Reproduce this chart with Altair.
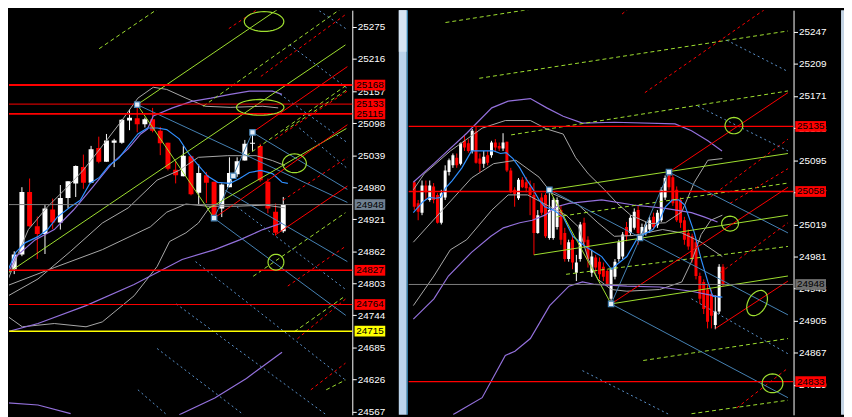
import math
import altair as alt
import pandas as pd

FONT = "Liberation Sans"

# ======================= LEFT PANEL DATA =======================
L_OPEN = [24847, 24829, 24856, 24971, 24908, 24894, 24939, 24915, 24960, 24987, 25017, 24988, 25052, 25027,
          25062, 25062, 25103, 25107, 25096, 25105, 25084, 25062, 25012, 25000, 25037, 24970, 25002, 24990,
          24941, 24980, 25004, 25029, 25060, 25056, 24990, 24935, 24899]
L_HIGH = [24856, 24862, 24980, 24996, 24926, 24947, 24959, 24984, 24991, 25020, 25040, 25056, 25073, 25078,
          25069, 25105, 25123, 25132, 25108, 25126, 25091, 25062, 25028, 25056, 25038, 25022, 25008, 24990,
          24987, 25035, 25035, 25067, 25081, 25060, 24996, 24950, 24962]
L_LOW = [24820, 24820, 24853, 24907, 24848, 24857, 24903, 24902, 24941, 24962, 24977, 24988, 25024, 25027,
         25017, 25060, 25085, 25081, 25090, 25081, 25039, 25011, 24987, 25000, 24965, 24947, 24951, 24923,
         24925, 24980, 24999, 25029, 25047, 24990, 24932, 24891, 24896]
L_CLOSE = [24829, 24856, 24971, 24908, 24894, 24941, 24915, 24960, 24991, 25019, 24988, 25050, 25027, 25066,
           25066, 25104, 25108, 25096, 25105, 25084, 25061, 25014, 25002, 25038, 24967, 25006, 24988, 24929,
           24985, 25006, 25028, 25060, 25062, 24993, 24941, 24896, 24947]

L_TICKS = [25275, 25216, 25157, 25098, 25039, 24980, 24921, 24862, 24803, 24744, 24685, 24626, 24567]
L_RED_LEVELS = [25168, 25133, 25115, 24827, 24764]
L_CURRENT = [24948]
L_YELLOW = [24715]

L_MA_BLUE_BAR = [-0.04, 1.21, 2.46, 4.09, 5.34, 6.59, 8.34, 9.59, 10.84, 12.09, 13.34, 14.59, 15.84, 17.09,
                 18.34, 19.6, 20.84, 22.46, 23.7, 24.96, 26.2, 27.46, 29.09, 30.34, 31.59, 33.09, 34.59, 35.84, 36.6]
L_MA_BLUE_PRICE = [24820, 24860, 24878, 24889, 24902, 24925, 24944, 24956, 24987, 24998, 25020, 25033, 25056,
                   25078, 25089, 25089, 25086, 25069, 25042, 25020, 25000, 24989, 24987, 24996, 25007, 25011,
                   25005, 24989, 24987]
L_PURPLE_UP_BAR = [-0.04, 1.21, 3.71, 6.21, 8.71, 11.21, 13.71, 15.84, 17.46, 18.34, 19.09, 21.59, 24.09,
                   26.59, 29.09, 31.59, 34.59, 35.84]
L_PURPLE_UP_PRICE = [24814, 24852, 24883, 24902, 24938, 24980, 25024, 25051, 25078, 25087, 25111, 25126,
                     25138, 25144, 25151, 25157, 25157, 25151]
L_PURPLE_MID_BAR = [-0.04, 4.09, 10.34, 16.59, 22.84, 27.09, 30.34, 33.34, 35.84]
L_PURPLE_MID_PRICE = [24713, 24729, 24762, 24801, 24847, 24865, 24883, 24902, 24914]
L_PURPLE_B1_BAR = [-0.04, 4.09, 8.34]
L_PURPLE_B1_PRICE = [24583, 24579, 24563]
L_PURPLE_B2_BAR = [22.46, 27.09, 31.2, 35.84]
L_PURPLE_B2_PRICE = [24561, 24592, 24628, 24676]
L_GRAY1_BAR = [-0.04, 1.46, 2.84, 5.34, 7.46, 9.96, 12.46, 14.96, 17.09, 19.09, 20.84, 23.34, 25.84, 29.09,
               33.34, 35.34]
L_GRAY1_PRICE = [24801, 24856, 24902, 24944, 24974, 25011, 25056, 25102, 25144, 25164, 25160, 25144, 25129,
                 25127, 25129, 25126]
L_GRAY2_BAR = [-0.04, 4.09, 8.34, 12.46, 15.84, 19.59, 22.46, 24.96, 28.71, 32.46, 34.59, 36.21]
L_GRAY2_PRICE = [24778, 24811, 24862, 24914, 24942, 24993, 25011, 25035, 25038, 25038, 25029, 25020]
L_GRAY3_BAR = [-0.04, 6.21, 12.46, 18.71, 20.84, 23.34, 26.21, 29.96, 33.71, 36.21]
L_GRAY3_PRICE = [24798, 24832, 24865, 24907, 24934, 24949, 24945, 24945, 24947, 24942]
L_GRAY4_BAR = [-0.04, 2.05, 6.21, 10.34, 12.46, 16.59, 19.59, 21.21, 23.34, 24.96, 26.46]
L_GRAY4_PRICE = [24744, 24723, 24729, 24723, 24732, 24780, 24834, 24880, 24896, 24914, 24944]

# trend lines: (bar1, price1, bar2, price2)
L_GREEN_SOLID = [(17, 25132, 36.59, 25320), (-0.04, 24820, 44.09, 25242), (17, 25132, 27, 24923),
                 (26.2, 24940, 44.21, 25088)]
L_RED_SOLID = [(27, 24923, 44.34, 25095), (32, 25081, 44.34, 25202), (34.96, 24892, 44.34, 24982)]
L_BLUE_SOLID = [(27, 24923, 29.5, 25001), (29.5, 25001, 32, 25081), (17, 25132, 44.34, 24952),
                (32, 25081, 44.34, 24976), (27, 24923, 44.13, 24744), (28.46, 24974, 44.34, 24843)]
L_GREEN_DASH = [(12.05, 25235, 20.59, 25317), (25.59, 25129, 44.34, 25317), (31.21, 25038, 44.34, 25169),
                (32.09, 24816, 44.09, 24933), (37.46, 24714, 44.09, 24780), (41.59, 24607, 44.09, 24625),
                (36.21, 25084, 44.34, 25160)]
L_RED_DASH = [(28.92, 25272, 33.96, 25320), (33.09, 25184, 44.21, 25299), (34.96, 25069, 44.34, 25157),
              (35.96, 24956, 44.34, 25035), (36.59, 24798, 44.09, 24871), (37.84, 24701, 44.09, 24774),
              (39.59, 24607, 44.09, 24656)]
L_BLUE_DASH = [(39.09, 25320, 44.34, 25270), (36.84, 25242, 44.34, 25162), (35.59, 25151, 44.34, 25062),
               (24.59, 24843, 44.09, 24625), (22.09, 24765, 41.59, 24561), (19.59, 24683, 30.84, 24561),
               (17.09, 24607, 20.84, 24561), (29.96, 24944, 44.09, 24792), (38.09, 25089, 44.21, 25016)]
L_ELLIPSE_BAR = [33.5, 33.0, 37.46, 35.05]
L_ELLIPSE_PRICE = [25285, 25127, 25024, 24842]
L_PIVOT_BAR = [17, 27, 29.5, 32]
L_PIVOT_PRICE = [25132, 24923, 25001, 25081]

# ======================= RIGHT PANEL DATA =======================
R_OPEN = [25069, 25044, 25033, 25065, 25048, 25064, 25054, 25021, 25051, 25081, 25089, 25098, 25091, 25118,
          25115, 25106, 25129, 25097, 25091, 25101, 25101, 25116, 25112, 25109, 25117, 25083, 25060, 25050,
          25072, 25069, 25063, 25054, 25009, 25051, 25054, 25003, 25003, 25016, 25036, 25009, 24978, 25001,
          24962, 24978, 25021, 25001, 24962, 24980, 24975, 24969, 24964, 24931, 24957, 24978, 24981, 25016,
          25009, 25015, 25036, 25005, 25009, 25013, 25028, 25018, 25024, 25051, 25079, 25075, 25060, 25048,
          25024, 25009, 25005, 24998, 24958, 24951, 24942, 24937, 24900, 24916, 24969]
R_HIGH = [25071, 25048, 25071, 25071, 25071, 25068, 25056, 25060, 25089, 25097, 25103, 25103, 25116, 25124,
          25120, 25132, 25135, 25103, 25106, 25106, 25118, 25120, 25116, 25127, 25117, 25086, 25063, 25074,
          25075, 25075, 25071, 25068, 25036, 25056, 25056, 25060, 25051, 25051, 25042, 25015, 25001, 25007,
          24983, 25022, 25027, 25005, 24989, 24983, 24980, 24974, 24966, 24968, 24978, 25001, 25010, 25022,
          25030, 25038, 25042, 25020, 25022, 25028, 25033, 25036, 25063, 25077, 25082, 25078, 25064, 25051,
          25028, 25013, 25008, 25001, 24962, 24954, 24948, 24942, 24935, 24972, 24972]
R_LOW = [25036, 25024, 25030, 25048, 25046, 25044, 25020, 25019, 25048, 25077, 25086, 25086, 25089, 25106,
         25104, 25103, 25091, 25081, 25086, 25089, 25098, 25106, 25106, 25106, 25081, 25056, 25040, 25048,
         25062, 25057, 25030, 24983, 25008, 25030, 25003, 25001, 25001, 25013, 24995, 24975, 24975, 24966,
         24952, 24975, 24992, 24968, 24957, 24962, 24954, 24952, 24946, 24925, 24954, 24975, 24978, 24999,
         25006, 25013, 24995, 25001, 25006, 25009, 25013, 25015, 25022, 25048, 25060, 25041, 25022, 25015,
         24995, 24989, 24974, 24954, 24925, 24913, 24896, 24896, 24895, 24913, 24946]
R_CLOSE = [25040, 25034, 25065, 25057, 25065, 25048, 25021, 25056, 25083, 25095, 25101, 25089, 25115, 25110,
           25106, 25130, 25092, 25091, 25099, 25092, 25116, 25110, 25109, 25116, 25083, 25057, 25055, 25072,
           25063, 25062, 25054, 25009, 25030, 25033, 25005, 25036, 25048, 25048, 25001, 24978, 24998, 24974,
           24974, 25019, 24998, 24978, 24981, 24968, 24960, 24957, 24948, 24966, 24975, 24998, 25007, 25005,
           25027, 25034, 25009, 25016, 25019, 25024, 25016, 25033, 25060, 25074, 25063, 25044, 25024, 25021,
           25001, 24993, 24978, 24958, 24931, 24919, 24904, 24911, 24916, 24969, 24948]

R_TICKS = [25247, 25209, 25171, 25133, 25095, 25057, 25019, 24981, 24943, 24905, 24867, 24829]
R_RED_LEVELS = [25135, 25058, 24833]
R_CURRENT = [24948]

R_MA_BLUE_BAR = [-0.25, 2.25, 3.83, 5.58, 6.83, 8.08, 9.83, 12.33, 14.83, 17.33, 20.58, 22.33, 23.83, 25.58,
                 27.33, 28.83, 30.58, 32.33, 33.83, 36.08, 38.58, 41.08, 44.33, 48.58, 51.08, 52.58, 55.08,
                 57.58, 59.33, 61.83, 63.58, 65.08, 66.83, 68.58, 70.08, 72.58, 74.33, 76.08, 77.33, 79.83]
R_MA_BLUE_PRICE = [25033, 25046, 25051, 25050, 25051, 25062, 25071, 25086, 25106, 25106, 25106, 25103, 25104,
                   25097, 25086, 25074, 25062, 25048, 25040, 25036, 25028, 25005, 24993, 24981, 24966, 24972,
                   24981, 25001, 25007, 25013, 25024, 25040, 25048, 25048, 25042, 25009, 24978, 24951, 24934,
                   24933]
R_PURPLE1_BAR = [-0.25, 5.08, 13.58, 20.08, 24.33, 30.08, 34.33, 38.58, 43.58, 51.83, 67.58, 71.83, 76.08, 79.75]
R_PURPLE1_PRICE = [25069, 25091, 25127, 25157, 25165, 25168, 25157, 25147, 25139, 25140, 25138, 25130, 25118,
                   25106]
R_PURPLE2_BAR = [-0.25, 5.08, 8.83, 14.83, 19.83, 23.08, 27.33, 30.58, 33.83, 36.83, 40.08, 48.58, 56.83,
                 65.08, 71.83, 75.08, 78.58]
R_PURPLE2_PRICE = [24907, 24931, 24958, 24986, 25005, 25015, 25021, 25024, 25030, 25040, 25044, 25048, 25042,
                   25038, 25033, 25028, 25022]
R_PURPLE3_BAR = [10.08, 17.58, 23.58, 26.08, 30.08, 35.08, 40.08, 43.58, 46.83, 55.08, 63.58, 71.83, 79.33]
R_PURPLE3_PRICE = [24794, 24814, 24864, 24869, 24884, 24923, 24946, 24951, 24948, 24946, 24945, 24940, 24933]
R_GRAY1_BAR = [-0.25, 2.58, 9.33, 17.58, 23.58, 30.08, 34.33, 38.58, 41.83, 45.08, 49.33, 52.58, 56.08, 61.08,
               65.08, 69.33, 72.58, 76.08, 79.83]
R_GRAY1_PRICE = [25060, 25079, 25106, 25133, 25142, 25142, 25132, 25126, 25098, 25079, 25060, 25044, 25030,
                 25020, 25021, 25034, 25069, 25095, 25097]
R_GRAY2_BAR = [-0.25, 8.08, 14.83, 20.58, 26.33, 32.33, 35.58, 42.58, 47.58, 51.83, 56.83, 64.33, 69.33,
               74.33, 79.83]
R_GRAY2_PRICE = [24998, 25040, 25074, 25091, 25095, 25075, 25056, 25042, 25021, 25005, 25006, 25013, 25009,
                 24998, 24981]
R_GRAY3_BAR = [-0.25, 5.08, 9.33, 13.58, 20.08, 24.33, 29.33, 34.33, 39.33, 42.58, 45.08, 47.58, 51.08,
               55.08, 63.58, 69.33, 71.83, 74.33, 76.83, 79.83]
R_GRAY3_PRICE = [24923, 24958, 24989, 25001, 25036, 25054, 25054, 25042, 25030, 25016, 24978, 24954, 24942,
                 24940, 24942, 24951, 24975, 25007, 25024, 25030]

R_GREEN_SOLID = [(35, 25060, 96.83, 25103), (51, 24925, 96.83, 24958), (31, 24983, 96.83, 25030),
                 (35, 25060, 51, 24925)]
R_RED_SOLID = [(51, 24925, 96.83, 25063), (66, 25081, 96.83, 25175), (78.08, 24896, 96.83, 24952)]
R_BLUE_SOLID = [(51, 24925, 58.5, 25003), (58.5, 25003, 66, 25081), (35, 25060, 96.83, 24912),
                (66, 25081, 96.83, 25009), (51, 24925, 96.83, 24814)]
R_GREEN_DASH = [(8.08, 25258, 41.83, 25282), (16.83, 25192, 96.83, 25248), (25.08, 25125, 96.83, 25177),
                (36.83, 25028, 96.83, 25068), (39.33, 24960, 96.83, 24993), (59.33, 24858, 96.83, 24884),
                (71.83, 24795, 96.83, 24811)]
R_RED_DASH = [(53.83, 25268, 57.58, 25282), (59.75, 25175, 93.5, 25282), (76.83, 25052, 96.83, 25120),
              (81.83, 25044, 96.83, 25085), (79.33, 24962, 96.83, 25021), (83.58, 24802, 96.83, 24849)]
R_BLUE_DASH = [(81.0, 25237, 96.83, 25200), (73.5, 25159, 96.83, 25106), (71.83, 24931, 96.83, 24866),
               (43.58, 24846, 66.08, 24794)]
R_ELLIPSE_BAR = [82.83, 81.83, 88.83, 92.83]
R_ELLIPSE_PRICE = [25136, 25020, 24926, 24831]
R_PIVOT_BAR = [35, 51, 58.5, 66]
R_PIVOT_PRICE = [25060, 24925, 25003, 25081]

# ======================= STYLES =======================
GREEN = "#9fe030"
RED = "#ff0000"
STEEL = "#4682b4"
BLUE_DASH = "#5b93cc"
MA_BLUE = "#2f8fff"
PURPLE = "#9370db"
GRAY = "#a9a9a9"
CUR_GRAY = "#808080"
YELLOW = "#ffff00"

H = 409
L_STYLE = dict(width=347, xdom=[0.9625, 44.3375], ydom=[24560.9, 25305.9], body=5, tagx=364.8,
               ellipse=[(40, 20, 0), (48, 16, 0), (24, 19, 0), (16, 16, 0)],
               level_width=[2, 1, 2, 1.5, 1], cur_tag="#6f7f90")
R_STYLE = dict(width=389, xdom=[-0.175, 97.0], ydom=[24793.7, 25272.6], body=3, tagx=406.3,
               ellipse=[(18, 16.5, 0), (17, 15, 0), (27.6, 18.2, 300), (21, 19, 0)],
               level_width=[1.3, 1.3, 1.3], cur_tag="#6e6e6e")


def ellipse_path(ratio):
    pts = []
    for k in range(40):
        t = 2 * math.pi * k / 40
        pts.append(f"{math.cos(t):.4f},{ratio * math.sin(t):.4f}")
    return "M" + "L".join(pts) + "Z"


TAG_PATH = "M-1,-0.35L1,-0.35L1,0.35L-1,0.35Z"


def y_axis(ticks):
    return alt.Axis(orient="right", values=ticks, title=None, grid=False, domain=True, domainColor="#ffffff",
                    domainWidth=1, ticks=True, tickColor="#ffffff", tickSize=4, tickWidth=1,
                    labelColor="#ffffff", labelFont=FONT, labelFontSize=10, labelPadding=1,
                    labelOverlap=False, labelFlush=False, labelBound=False, format="d")


def build_panel(o, h, l, c, ticks, paths, segs, levels, tags, ell_bar, ell_price, piv_bar, piv_price, st,
                extras):
    xs = alt.Scale(domain=st["xdom"], nice=False, zero=False)
    ys = alt.Scale(domain=st["ydom"], nice=False, zero=False)
    yax = y_axis(ticks)

    def X(f):
        return alt.X(f, type="quantitative", scale=xs, axis=None)

    def Y(f):
        return alt.Y(f, type="quantitative", scale=ys, axis=yax)

    layers = []
    n = len(o)
    cdf = pd.DataFrame({"bar": list(range(n)), "open": o, "high": h, "low": l, "close": c})
    cdf["dir"] = ["up" if cc >= oo else "down" for oo, cc in zip(o, c)]
    color = alt.Color("dir:N", scale=alt.Scale(domain=["up", "down"], range=["#ffffff", RED]), legend=None)
    layers.append(alt.Chart(cdf).mark_rule(clip=True, strokeWidth=1).encode(
        x=X("bar"), y=Y("low"), y2=alt.Y2("high"), color=color))
    layers.append(alt.Chart(cdf).mark_bar(clip=True, size=st["body"]).encode(
        x=X("bar"), y=Y("open"), y2=alt.Y2("close"), color=color))

    for bars, prices, col, w in paths:
        df = pd.DataFrame({"bar": bars, "price": prices, "k": list(range(len(bars)))})
        layers.append(alt.Chart(df).mark_line(clip=True, color=col, strokeWidth=w).encode(
            x=X("bar"), y=Y("price"), order=alt.Order("k", type="quantitative")))

    for seglist, col, dash in segs:
        df = pd.DataFrame(seglist, columns=["x1", "y1", "x2", "y2"])
        kw = dict(clip=True, color=col, strokeWidth=1)
        if dash:
            kw["strokeDash"] = dash
        layers.append(alt.Chart(df).mark_rule(**kw).encode(
            x=X("x1"), x2=alt.X2("x2"), y=Y("y1"), y2=alt.Y2("y2")))

    for price, col, w in levels:
        layers.append(alt.Chart(pd.DataFrame({"price": [price]})).mark_rule(color=col, strokeWidth=w).encode(
            y=Y("price")))

    for b, p, (ew, eh, ang) in zip(ell_bar, ell_price, st["ellipse"]):
        layers.append(alt.Chart(pd.DataFrame({"bar": [b], "price": [p]})).mark_point(
            clip=True, shape=ellipse_path(eh / ew), size=ew * ew, filled=False, color=GREEN, strokeWidth=1.2,
            opacity=1, angle=ang).encode(x=X("bar"), y=Y("price")))

    pdf = pd.DataFrame({"bar": piv_bar, "price": piv_price})
    layers.append(alt.Chart(pdf).mark_point(clip=True, shape="square", size=30, filled=True, fill="#e3edf7",
                                            stroke=STEEL, strokeWidth=1.2, opacity=1).encode(
        x=X("bar"), y=Y("price")))

    for price, bg, fg in tags:
        df = pd.DataFrame({"price": [price], "label": [str(price)]})
        layers.append(alt.Chart(df).mark_point(shape=TAG_PATH, size=961, filled=True, color=bg,
                                               opacity=1).encode(x=alt.value(st["tagx"]), y=Y("price")))
        layers.append(alt.Chart(df).mark_text(font=FONT, fontSize=10, color=fg, align="center",
                                              baseline="middle").encode(
            x=alt.value(st["tagx"]), y=Y("price"), text=alt.Text("label:N")))

    layers.extend(extras)
    return alt.layer(*layers).properties(width=st["width"], height=H)


one = pd.DataFrame({"a": [0]})

left_paths = [
    (L_GRAY1_BAR, L_GRAY1_PRICE, GRAY, 1), (L_GRAY2_BAR, L_GRAY2_PRICE, GRAY, 1),
    (L_GRAY3_BAR, L_GRAY3_PRICE, GRAY, 1), (L_GRAY4_BAR, L_GRAY4_PRICE, GRAY, 1),
    (L_PURPLE_UP_BAR, L_PURPLE_UP_PRICE, PURPLE, 1.2), (L_PURPLE_MID_BAR, L_PURPLE_MID_PRICE, PURPLE, 1.2),
    (L_PURPLE_B1_BAR, L_PURPLE_B1_PRICE, PURPLE, 1.2), (L_PURPLE_B2_BAR, L_PURPLE_B2_PRICE, PURPLE, 1.2),
    (L_MA_BLUE_BAR, L_MA_BLUE_PRICE, MA_BLUE, 1.2),
]
left_segs = [(L_GREEN_DASH, GREEN, [4, 3]), (L_RED_DASH, RED, [3, 3]), (L_BLUE_DASH, BLUE_DASH, [2, 3]),
             (L_BLUE_SOLID, STEEL, None), (L_GREEN_SOLID, GREEN, None), (L_RED_SOLID, RED, None)]
left_levels = [(p, RED, w) for p, w in zip(L_RED_LEVELS, L_STYLE["level_width"])]
left_levels += [(L_CURRENT[0], CUR_GRAY, 1), (L_YELLOW[0], YELLOW, 1.5)]
left_tags = [(p, RED, "#000000") for p in L_RED_LEVELS]
left_tags += [(L_CURRENT[0], L_STYLE["cur_tag"], "#000000"), (L_YELLOW[0], YELLOW, "#000000")]

left = build_panel(L_OPEN, L_HIGH, L_LOW, L_CLOSE, L_TICKS, left_paths, left_segs, left_levels, left_tags,
                   L_ELLIPSE_BAR, L_ELLIPSE_PRICE, L_PIVOT_BAR, L_PIVOT_PRICE, L_STYLE, [])

right_paths = [
    (R_GRAY1_BAR, R_GRAY1_PRICE, GRAY, 1), (R_GRAY2_BAR, R_GRAY2_PRICE, GRAY, 1),
    (R_GRAY3_BAR, R_GRAY3_PRICE, GRAY, 1),
    (R_PURPLE1_BAR, R_PURPLE1_PRICE, PURPLE, 1.2), (R_PURPLE2_BAR, R_PURPLE2_PRICE, PURPLE, 1.2),
    (R_PURPLE3_BAR, R_PURPLE3_PRICE, PURPLE, 1.2),
    (R_MA_BLUE_BAR, R_MA_BLUE_PRICE, MA_BLUE, 1.2),
]
right_segs = [(R_GREEN_DASH, GREEN, [4, 3]), (R_RED_DASH, RED, [3, 3]), (R_BLUE_DASH, BLUE_DASH, [2, 3]),
              (R_BLUE_SOLID, STEEL, None), (R_GREEN_SOLID, GREEN, None), (R_RED_SOLID, RED, None)]
right_levels = [(p, RED, w) for p, w in zip(R_RED_LEVELS, R_STYLE["level_width"])]
right_levels += [(R_CURRENT[0], CUR_GRAY, 1)]
right_tags = [(p, RED, "#000000") for p in R_RED_LEVELS] + [(R_CURRENT[0], R_STYLE["cur_tag"], "#000000")]

# window frame pieces (separator between the two chart windows, right edge)
extras = [
    alt.Chart(one).mark_rect(color="#bcd4ec").encode(x=alt.value(-10), x2=alt.value(-2), y=alt.value(0),
                                                     y2=alt.value(H)),
    alt.Chart(one).mark_rect(color="#d6e4f2").encode(x=alt.value(-10), x2=alt.value(-2), y=alt.value(0),
                                                     y2=alt.value(42)),
    alt.Chart(one).mark_rect(color="#4db0e8").encode(x=alt.value(-2), x2=alt.value(-1), y=alt.value(0),
                                                     y2=alt.value(H)),
    alt.Chart(one).mark_rect(color="#c4d4e4").encode(x=alt.value(437), x2=alt.value(440), y=alt.value(0),
                                                     y2=alt.value(H)),
]

right = build_panel(R_OPEN, R_HIGH, R_LOW, R_CLOSE, R_TICKS, right_paths, right_segs, right_levels,
                    right_tags, R_ELLIPSE_BAR, R_ELLIPSE_PRICE, R_PIVOT_BAR, R_PIVOT_PRICE, R_STYLE, extras)

chart = alt.hconcat(left, right, spacing=57, bounds="flush").properties(
    padding=0, background="#000000").configure_view(strokeWidth=0)

chart.save("out.html", embed_options={"renderer": "svg", "actions": False})
